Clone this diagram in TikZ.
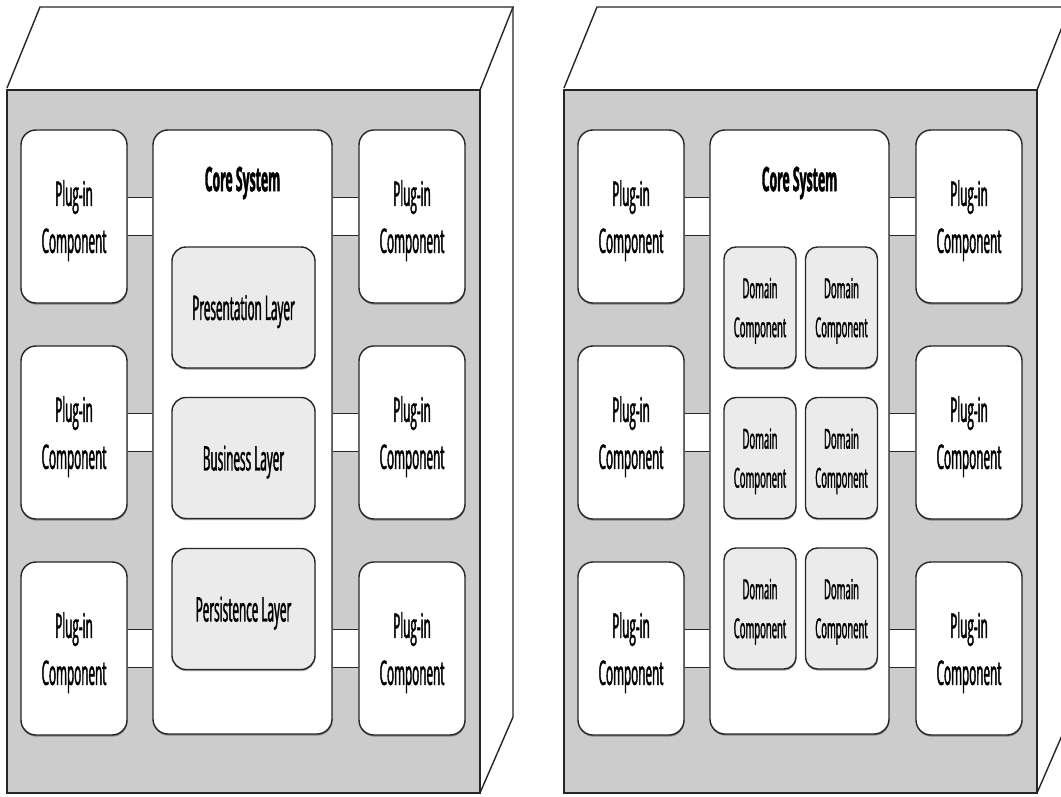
\documentclass[tikz,border=0pt]{standalone}
\usepackage{fontspec}
\newfontfamily\cf[FakeStretch=0.345, FakeBold=1.2]{Open Sans}
\newfontfamily\cfb[FakeStretch=0.36, FakeBold=1.2]{Open Sans}
\usetikzlibrary{shadows}
\pgfdeclarelayer{bg}
\pgfdeclarelayer{lk}
\pgfsetlayers{bg,lk,main}
\begin{document}
\begin{tikzpicture}[x=1pt,y=-1pt,
  face/.style={draw=black!85, line width=1.4pt, line join=miter},
  box/.style={draw=black!85, line width=1.4pt, rounded corners=15pt, fill=white,
    drop shadow={shadow xshift=0.4pt, shadow yshift=-1.6pt, opacity=0.55, fill=black!70},
    inner sep=0pt, align=center, text depth=0pt, font=\cf\fontsize{34}{47}\selectfont},
  plug/.style={box, minimum width=106pt, minimum height=173pt},
  corebox/.style={box, minimum width=179pt, minimum height=604pt},
  layerbox/.style={box, fill=black!8, rounded corners=14pt, minimum width=143pt, minimum height=121pt},
  dom/.style={box, fill=black!8, rounded corners=12pt, minimum width=72pt, minimum height=121pt,
    font=\cf\fontsize{27.5}{39}\selectfont},
  title/.style={inner sep=0pt, font=\cfb\bfseries\fontsize{34}{40}\selectfont},
  link/.style={draw=black!85, line width=1.4pt, double=white, double distance=37pt, line cap=butt}]
\useasboundingbox (0,0) rectangle (1061,797);
% 3D boxes
\begin{pgfonlayer}{bg}
\foreach \o in {0,557}{
  \begin{scope}[xshift=\o pt]
  \fill[white] (7,90) -- (40,7) -- (513,7) -- (513,717) -- (480,793) -- cycle;
  \draw[face] (7,88) -- (40,7) -- (513,7) -- (480,90);
  \draw[face] (513,7) -- (513,717) -- (480,793);
  \draw[face, fill=black!20] (7,90) rectangle (480,793);
  \end{scope}
}
\end{pgfonlayer}
% left diagram
\node[plug] (lp1) at (74,216.5) {Plug-in\\Component};
\node[plug] (lp2) at (74,432.5) {Plug-in\\Component};
\node[plug] (lp3) at (74,648.5) {Plug-in\\Component};
\node[plug] (lq1) at (412,216.5) {Plug-in\\Component};
\node[plug] (lq2) at (412,432.5) {Plug-in\\Component};
\node[plug] (lq3) at (412,648.5) {Plug-in\\Component};
\node[corebox] (lc) at (242.5,432) {};
\node[title] (lt) at (242.5,183) {Core System};
\node[layerbox] (la) at (243.5,307.5) {Presentation Layer};
\node[layerbox] (lb) at (243.5,458) {Business Layer};
\node[layerbox] (ld) at (243.5,609) {Persistence Layer};
% right diagram
\node[plug] (rp1) at (631,216.5) {Plug-in\\Component};
\node[plug] (rp2) at (631,432.5) {Plug-in\\Component};
\node[plug] (rp3) at (631,648.5) {Plug-in\\Component};
\node[plug] (rq1) at (969,216.5) {Plug-in\\Component};
\node[plug] (rq2) at (969,432.5) {Plug-in\\Component};
\node[plug] (rq3) at (969,648.5) {Plug-in\\Component};
\node[corebox] (rc) at (799.5,432) {};
\node[title] (rt) at (799.5,183) {Core System};
\node[dom] (d11) at (760,307.5) {Domain\\Component};
\node[dom] (d12) at (841.5,307.5) {Domain\\Component};
\node[dom] (d21) at (760,458) {Domain\\Component};
\node[dom] (d22) at (841.5,458) {Domain\\Component};
\node[dom] (d31) at (760,608.5) {Domain\\Component};
\node[dom] (d32) at (841.5,608.5) {Domain\\Component};
% links
\begin{pgfonlayer}{lk}
\foreach \p in {lp1,lp2,lp3}{\draw[link] (\p.east) -- (lc.west |- \p.east);}
\foreach \p in {lq1,lq2,lq3}{\draw[link] (\p.west) -- (lc.east |- \p.west);}
\foreach \p in {rp1,rp2,rp3}{\draw[link] (\p.east) -- (rc.west |- \p.east);}
\foreach \p in {rq1,rq2,rq3}{\draw[link] (\p.west) -- (rc.east |- \p.west);}
\end{pgfonlayer}
\end{tikzpicture}
\end{document}
